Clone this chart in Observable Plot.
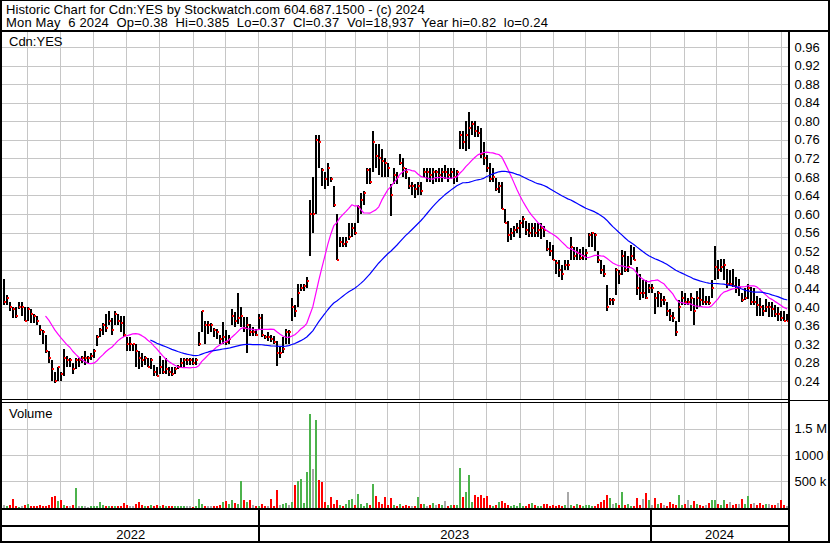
<!DOCTYPE html>
<html><head><meta charset="utf-8">
<script src="https://cdn.jsdelivr.net/npm/d3@7"></script>
<script src="https://cdn.jsdelivr.net/npm/@observablehq/plot@0.6"></script>
<style>
html,body{margin:0;padding:0;background:#fff;}
#chart{position:relative;width:830px;height:543px;overflow:hidden;background:#fff;font-family:'Liberation Sans',Arial,sans-serif;font-size:13px;color:#000;}
.panel{position:absolute;left:0;}
.ln{position:absolute;background:#000;z-index:5;}
.txt{position:absolute;white-space:pre;z-index:6;line-height:12px;font-size:13px;font-family:'Liberation Sans',Arial,sans-serif;}
.t1{letter-spacing:0.09px;}
.t2{letter-spacing:0.17px;}
svg{display:block;}
</style></head><body>
<div id="chart"></div>
<script>
const title1 = "Historic Chart for Cdn:YES by Stockwatch.com 604.687.1500 - (c) 2024";
const title2 = "Mon May  6 2024  Op=0.38  Hi=0.385  Lo=0.37  Cl=0.37  Vol=18,937  Year hi=0.82  lo=0.24";
const symbolLabel = "Cdn:YES";
const volumeLabel = "Volume";

// one bar per two trading days, May 2022 -> May 6 2024
const high = [
.46,.425,.41,.40,.40,.41,.41,.40,.40,.395,
.385,.38,.36,.35,.34,.305,.285,.26,.27,.26,
.31,.295,.29,.28,.29,.29,.295,.305,.295,.30,
.31,.34,.355,.365,.385,.39,.375,.39,.385,.38,
.38,.335,.335,.32,.32,.305,.30,.295,.29,.29,
.275,.27,.295,.285,.29,.27,.27,.27,.275,.29,
.29,.29,.29,.29,.29,.345,.39,.37,.37,.365,
.355,.352,.34,.367,.35,.34,.395,.388,.43,.40,
.378,.378,.364,.356,.352,.385,.385,.34,.345,.34,
.338,.327,.313,.335,.352,.35,.42,.405,.45,.45,
.45,.464,.63,.68,.77,.77,.70,.69,.71,.68,
.66,.60,.55,.55,.55,.58,.58,.58,.62,.645,
.65,.70,.70,.78,.75,.75,.74,.72,.71,.665,
.70,.69,.73,.72,.70,.68,.67,.665,.67,.67,
.70,.70,.70,.70,.695,.70,.70,.705,.70,.70,
.70,.695,.78,.78,.80,.82,.80,.80,.79,.785,
.756,.727,.71,.70,.677,.67,.67,.61,.584,.57,
.575,.58,.587,.595,.585,.58,.58,.58,.58,.58,
.575,.544,.54,.533,.50,.50,.49,.50,.50,.55,
.53,.53,.525,.53,.525,.56,.562,.56,.52,.50,
.49,.447,.42,.42,.483,.48,.522,.52,.51,.533,
.53,.485,.47,.457,.457,.45,.45,.43,.435,.43,
.424,.41,.395,.388,.37,.414,.435,.43,.42,.43,
.42,.435,.44,.44,.424,.424,.457,.532,.50,.503,
.503,.482,.48,.482,.464,.46,.43,.44,.45,.442,
.44,.424,.42,.403,.417,.41,.41,.403,.40,.392,
.39,.385];
const low = [
.405,.405,.39,.375,.375,.395,.38,.37,.37,.365,
.365,.36,.34,.32,.30,.28,.24,.235,.24,.24,
.25,.27,.27,.255,.265,.27,.28,.275,.28,.285,
.29,.315,.335,.34,.345,.36,.34,.36,.36,.345,
.335,.305,.305,.305,.27,.265,.27,.275,.27,.265,
.25,.25,.255,.255,.255,.25,.25,.255,.265,.27,
.27,.275,.275,.275,.275,.315,.345,.32,.342,.345,
.335,.33,.32,.32,.317,.32,.36,.356,.363,.356,
.345,.30,.338,.338,.338,.352,.335,.33,.327,.324,
.32,.273,.29,.30,.32,.32,.37,.378,.40,.435,
.435,.44,.51,.56,.60,.70,.66,.655,.66,.67,
.615,.50,.53,.53,.53,.545,.55,.555,.58,.60,
.62,.665,.665,.69,.70,.685,.68,.68,.68,.595,
.665,.665,.705,.68,.675,.655,.64,.635,.64,.64,
.68,.67,.67,.665,.67,.67,.67,.675,.67,.675,
.665,.67,.74,.74,.735,.74,.77,.765,.765,.72,
.706,.69,.67,.67,.65,.645,.61,.58,.54,.545,
.55,.56,.548,.57,.555,.55,.55,.55,.55,.547,
.55,.52,.51,.50,.47,.465,.458,.48,.48,.50,
.50,.50,.50,.50,.50,.53,.53,.52,.495,.47,
.465,.39,.405,.405,.426,.45,.468,.475,.475,.49,
.50,.425,.415,.42,.417,.43,.43,.385,.40,.40,
.403,.38,.37,.367,.338,.367,.403,.403,.403,.392,
.36,.395,.40,.403,.403,.403,.42,.457,.46,.475,
.457,.44,.445,.442,.43,.424,.41,.414,.417,.403,
.403,.38,.38,.38,.388,.378,.378,.378,.37,.37,
.37,.37];
const close = [
.41,.42,.40,.395,.38,.40,.40,.37,.395,.385,
.38,.37,.35,.345,.305,.29,.265,.24,.27,.255,
.29,.285,.285,.265,.285,.285,.29,.29,.29,.295,
.305,.335,.35,.36,.355,.37,.35,.385,.37,.365,
.34,.32,.32,.32,.305,.29,.285,.29,.27,.285,
.26,.25,.27,.26,.265,.26,.255,.265,.27,.28,
.285,.285,.285,.28,.285,.32,.39,.36,.36,.36,
.35,.345,.33,.335,.325,.33,.38,.37,.375,.38,
.355,.36,.345,.345,.34,.375,.34,.335,.335,.33,
.325,.30,.30,.31,.345,.345,.40,.39,.43,.44,
.445,.455,.60,.60,.76,.755,.695,.675,.70,.675,
.62,.50,.54,.535,.54,.55,.57,.56,.615,.63,
.645,.695,.67,.755,.725,.72,.715,.71,.70,.64,
.685,.68,.71,.70,.69,.66,.66,.655,.66,.65,
.69,.69,.685,.69,.69,.685,.69,.69,.685,.69,
.68,.69,.77,.755,.77,.785,.795,.78,.775,.73,
.72,.70,.675,.68,.655,.66,.61,.58,.555,.56,
.565,.57,.58,.59,.565,.56,.57,.56,.565,.57,
.565,.525,.52,.50,.495,.48,.47,.49,.49,.53,
.51,.515,.505,.51,.515,.555,.56,.555,.50,.48,
.47,.40,.415,.415,.48,.47,.51,.48,.485,.51,
.50,.44,.43,.43,.42,.44,.44,.42,.43,.415,
.415,.39,.38,.375,.345,.40,.42,.41,.41,.42,
.39,.42,.415,.41,.41,.408,.44,.485,.48,.485,
.49,.45,.45,.445,.44,.44,.415,.418,.44,.41,
.41,.405,.40,.39,.40,.40,.395,.385,.385,.375,
.37,.37];
// volume in thousands of shares
const volume = [
40,30,50,160,20,15,25,40,70,35,
30,20,40,25,30,50,200,220,130,150,
40,30,20,45,380,30,20,25,15,25,
20,35,100,40,30,25,35,20,30,25,
90,40,30,20,60,100,40,30,20,45,
35,50,25,40,30,25,30,20,35,25,
30,20,25,15,20,165,60,30,20,25,
20,30,40,100,130,60,150,80,60,510,
150,100,140,40,30,25,60,20,30,160,
30,340,40,60,80,50,100,425,500,550,
80,680,1770,725,1670,530,480,100,40,200,
60,150,40,30,60,150,160,40,250,60,
30,80,40,440,220,100,60,200,50,180,
40,30,60,25,40,35,25,30,200,60,
70,30,40,80,50,60,40,130,30,40,
50,40,750,200,300,620,100,230,200,230,
180,220,40,30,50,100,130,80,40,25,
50,30,80,25,30,60,90,40,30,25,
70,60,30,40,30,40,25,40,300,40,
30,60,40,30,50,40,25,30,70,100,
150,240,180,60,80,40,300,40,60,25,
30,190,50,170,270,150,50,180,60,80,
40,30,100,60,50,240,40,60,150,40,
120,60,50,30,40,80,150,150,60,50,
150,60,110,40,60,70,170,60,210,60,
80,40,90,50,60,70,40,50,80,150,
40,30];

const priceTicks = [0.24,0.28,0.32,0.36,0.40,0.44,0.48,0.52,0.56,0.60,0.64,0.68,0.72,0.76,0.80,0.84,0.88,0.92,0.96];
const volumeTicks = [500, 1000, 1500];
const volumeTickLabels = ["500 k", "1000 k", "1.5 M"];
// first bar of each month, Jun 2022 .. May 2024 (in bar units)
const monthStarts = [8.0,18.9,29.8,40.9,52.0,63.1,73.9,85.0,96.1,107.2,117.2,127.8,138.7,149.8,160.9,172.2,183.1,193.9,205.0,215.6,226.9,237.6,248.3,259.2];
const years = ["2022", "2023", "2024"];
const yearStarts = [85.0, 215.6];
const fastPeriod = 15, slowPeriod = 50;

const xDomain = [-0.43, 261.57];
const gridColor = "#c6c6c6";
const upColor = "#4cb34c", downColor = "#ff0000", flatColor = "#a8a8a8";

function sma(k) {
  return close.map((_, i) => i < k - 1 ? NaN : d3.mean(close.slice(i - k + 1, i + 1)));
}
const fast = sma(fastPeriod), slow = sma(slowPeriod);
const bars = close.map((c, i) => ({
  i, hi: high[i], lo: low[i], cl: c, vol: volume[i],
  dir: i === 0 ? 0 : Math.sign(c - close[i - 1]),
  fast: fast[i], slow: slow[i]
}));

const font = "'Liberation Sans', Arial, sans-serif";
const common = {
  width: 830, marginLeft: 2, marginRight: 42, marginTop: 0, marginBottom: 0,
  x: {domain: xDomain, axis: null},
  style: {fontFamily: font, fontSize: "13px", background: "transparent", color: "#000", overflow: "visible"}
};

const pricePlot = Plot.plot({
  ...common, height: 367,
  y: {domain: [0.20138, 0.99233], axis: null},
  marks: [
    Plot.gridX(monthStarts, {stroke: gridColor, strokeOpacity: 1, shapeRendering: "crispEdges"}),
    Plot.gridY(priceTicks, {stroke: gridColor, strokeOpacity: 1, shapeRendering: "crispEdges"}),
    Plot.ruleX(bars, {x: "i", y1: "lo", y2: "hi", stroke: "#000", strokeWidth: 2, shapeRendering: "crispEdges"}),
    Plot.rect(bars, {x1: d => d.i + 0.34, x2: d => d.i + 0.95, y1: "cl", y2: "cl", insetTop: -1, insetBottom: -1, fill: "#ff0000", shapeRendering: "crispEdges"}),
    Plot.line(bars, {x: "i", y: "fast", stroke: "#ff00ff", strokeWidth: 1.2}),
    Plot.line(bars, {x: "i", y: "slow", stroke: "#0000ff", strokeWidth: 1.2}),
    Plot.text(priceTicks, {x: xDomain[1], y: d => d, text: d => d.toFixed(2), dx: 6, textAnchor: "start", fontSize: 13, fill: "#000"})
  ]
});

const volumePlot = Plot.plot({
  ...common, height: 105,
  y: {domain: [-9.5, 1987], axis: null},
  color: {type: "identity"},
  marks: [
    Plot.gridX(monthStarts, {stroke: gridColor, strokeOpacity: 1, shapeRendering: "crispEdges"}),
    Plot.gridY(volumeTicks, {stroke: gridColor, strokeOpacity: 1, shapeRendering: "crispEdges"}),
    Plot.ruleX(bars, {x: "i", y1: 0, y2: "vol", stroke: d => d.dir > 0 ? upColor : d.dir < 0 ? downColor : flatColor, strokeWidth: 2, shapeRendering: "crispEdges"}),
    Plot.text(volumeTicks, {x: xDomain[1], y: d => d, text: (d, k) => volumeTickLabels[k], dx: 6, textAnchor: "start", fontSize: 13, fill: "#000"})
  ]
});

const yearBounds = [xDomain[0], ...yearStarts, xDomain[1]];
const yearLabels = years.map((label, k) => ({label, x: (yearBounds[k] + yearBounds[k + 1]) / 2}));
const axisPlot = Plot.plot({
  ...common, height: 31,
  marks: [
    Plot.ruleX(yearStarts, {stroke: "#000", strokeWidth: 2, shapeRendering: "crispEdges"}),
    Plot.text(yearLabels, {x: "x", text: "label", frameAnchor: "top", lineAnchor: "top", dy: 19, fontSize: 13, fill: "#000"})
  ]
});

const chart = document.getElementById("chart");
function addPanel(node, top) {
  const d = document.createElement("div");
  d.className = "panel";
  d.style.top = top + "px";
  d.appendChild(node);
  chart.appendChild(d);
}
addPanel(pricePlot, 32);
addPanel(volumePlot, 403);
addPanel(axisPlot, 510);

function addText(str, left, top, cls) {
  const d = document.createElement("div");
  d.className = "txt" + (cls ? " " + cls : "");
  d.style.left = left + "px";
  d.style.top = top + "px";
  d.textContent = str;
  chart.appendChild(d);
}
addText(title1, 6, 3.5, "t1");
addText(title2, 6, 16.8, "t2");
addText(symbolLabel, 9, 35.5);
addText(volumeLabel, 9, 407.8);

const frame = [[0,0,830,1],[0,0,2,543],[828,0,2,543],[0,541,830,2],[0,30,830,2],[788,32,2,511],
  [0,399,788,1],[0,402,788,1],[790,400,40,1],[0,508,790,2],[0,525,788,2]];
for (const [l, t, w, h] of frame) {
  const d = document.createElement("div");
  d.className = "ln";
  Object.assign(d.style, {left: l + "px", top: t + "px", width: w + "px", height: h + "px"});
  chart.appendChild(d);
}
</script>
</body></html>
